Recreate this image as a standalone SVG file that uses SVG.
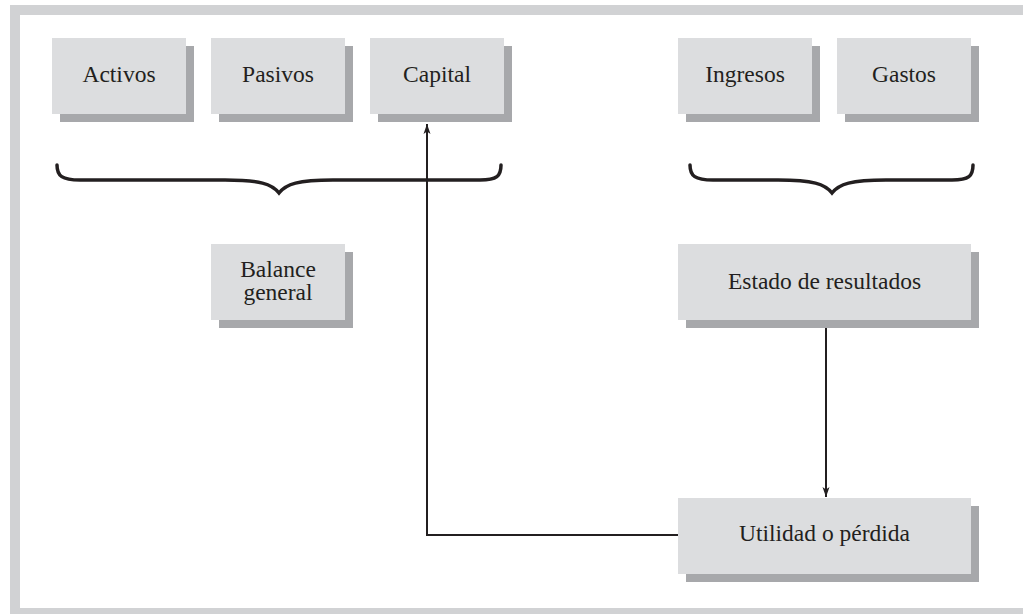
<svg xmlns="http://www.w3.org/2000/svg" width="1023" height="614" viewBox="0 0 1023 614">
<style>
.box{fill:#dcdddf}
.sh{fill:#a7a8ab}
.t{font-family:"Liberation Serif","Times New Roman",serif;font-size:23.5px;fill:#231f20;text-anchor:middle}
.c{fill:none;stroke:#231f20;stroke-width:2}
.br{fill:none;stroke:#231f20;stroke-width:3.5;stroke-linecap:round}
</style>
<defs>
<marker id="ah" viewBox="0 0 10 10" refX="10" refY="5" markerWidth="10" markerHeight="10" markerUnits="userSpaceOnUse" orient="auto">
<path d="M0,1.5 L10,5 L0,8.5 L2.5,5 Z" fill="#231f20"/>
</marker>
</defs>
<rect width="1023" height="614" fill="#ffffff"/>
<rect x="15" y="10" width="1030" height="603" fill="none" stroke="#d1d2d4" stroke-width="10"/>

<g id="connectors">
<path class="c" d="M678,535 L427,535 L427,124" marker-end="url(#ah)"/>
<path class="c" d="M826,320 L826,497" marker-end="url(#ah)"/>
</g>

<g id="brace-left">
<path class="br" d="M57,165 C57,176 62,180 80,180 L225,180 C260,180 272,184 279,193 C286,184 298,180 333,180 L480,180 C497,180 501,176 501,165"/>
</g>
<g id="brace-right">
<path class="br" d="M690,165 C690,176 695,180 713,180 L778,180 C813,180 825,184 832,193 C839,184 851,180 886,180 L952,180 C969,180 973,176 973,165"/>
</g>

<g id="activos"><rect class="sh" x="60" y="46" width="134" height="76"/><rect class="box" x="52" y="38" width="134" height="76"/><text class="t" x="119" y="82">Activos</text></g>
<g id="pasivos"><rect class="sh" x="219" y="46" width="134" height="76"/><rect class="box" x="211" y="38" width="134" height="76"/><text class="t" x="278" y="82">Pasivos</text></g>
<g id="capital"><rect class="sh" x="378" y="46" width="134" height="76"/><rect class="box" x="370" y="38" width="134" height="76"/><text class="t" x="437" y="82">Capital</text></g>
<g id="ingresos"><rect class="sh" x="686" y="46" width="134" height="76"/><rect class="box" x="678" y="38" width="134" height="76"/><text class="t" x="745" y="82">Ingresos</text></g>
<g id="gastos"><rect class="sh" x="845" y="46" width="134" height="76"/><rect class="box" x="837" y="38" width="134" height="76"/><text class="t" x="904" y="82">Gastos</text></g>
<g id="balance"><rect class="sh" x="219" y="252" width="134" height="76"/><rect class="box" x="211" y="244" width="134" height="76"/><text class="t" x="278" y="277">Balance</text><text class="t" x="278" y="300">general</text></g>
<g id="estado"><rect class="sh" x="686" y="252" width="293" height="76"/><rect class="box" x="678" y="244" width="293" height="76"/><text class="t" x="824.5" y="289">Estado de resultados</text></g>
<g id="utilidad"><rect class="sh" x="686" y="506" width="293" height="76"/><rect class="box" x="678" y="498" width="293" height="76"/><text class="t" x="824.5" y="541">Utilidad o pérdida</text></g>
</svg>
